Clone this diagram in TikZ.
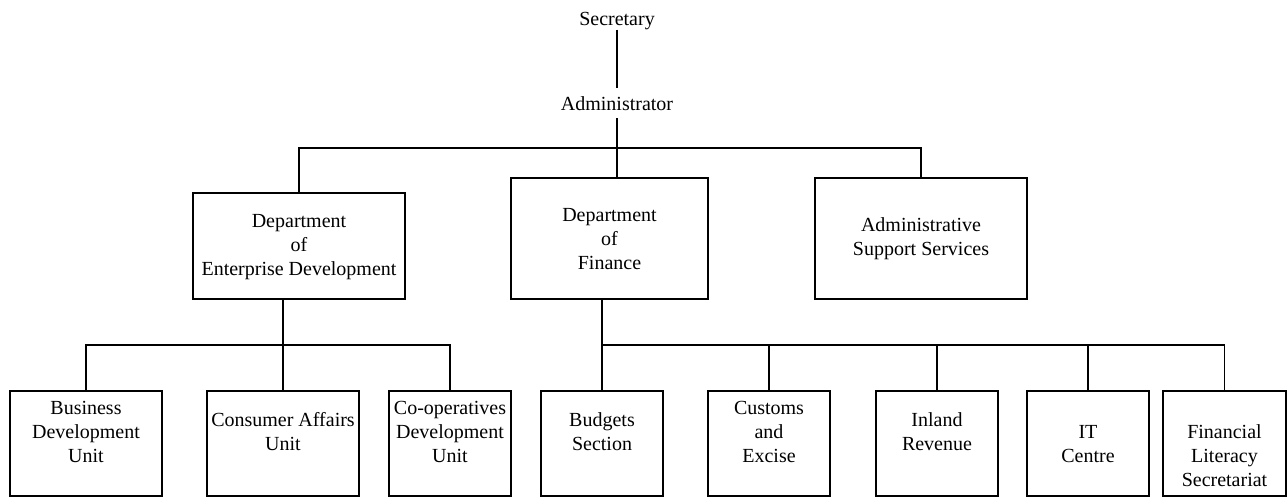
\documentclass[tikz,border=0pt]{standalone}
\usepackage{fontspec}
\setmainfont{Liberation Serif}
\begin{document}
\begin{tikzpicture}[x=1pt,y=-1pt,
  unitbox/.style={draw, line width=1.1pt, inner sep=0pt, minimum width=#1},
  unitbox/.default=122pt,
  lbl/.style={font=\fontsize{20}{24}\selectfont, align=center, inner sep=0pt},
  link/.style={line width=1.1pt}]
  % canvas
  \fill[white] (0,0) rectangle (1287,498);
  \useasboundingbox (0,0) rectangle (1287,498);

  % top of the chart
  \node[lbl, anchor=base] (sec) at (617,25) {Secretary};
  \node[lbl, anchor=base, inner ysep=8pt] (adm) at (617,110) {Administrator};

  % departments
  \node[unitbox=212pt, minimum height=106pt] (ent) at (299,246) {};
  \node[lbl] (entT) at (299,247) {Department\\of\\Enterprise Development};
  \node[unitbox=197pt, minimum height=121pt] (fin) at (609.5,238.5) {};
  \node[lbl] (finT) at (609.5,239) {Department\\of\\Finance};
  \node[unitbox=212pt, minimum height=121pt] (ass) at (921,238.5) {};
  \node[lbl] (assT) at (921,239) {Administrative\\Support Services};

  % units
  \node[unitbox=152pt, minimum height=105pt] (bdu) at (86,443.5) {};
  \node[lbl] (bduT) at (86,432) {Business\\Development\\Unit};
  \node[unitbox=152pt, minimum height=105pt] (cau) at (283,443.5) {};
  \node[lbl] (cauT) at (283,432) {Consumer Affairs\\Unit};
  \node[unitbox, minimum height=105pt] (cdu) at (450,443.5) {};
  \node[lbl] (cduT) at (450,432) {Co-operatives\\Development\\Unit};
  \node[unitbox, minimum height=105pt] (bs) at (602,443.5) {};
  \node[lbl] (bsT) at (602,432) {Budgets\\Section};
  \node[unitbox, minimum height=105pt] (ce) at (769,443.5) {};
  \node[lbl] (ceT) at (769,432) {Customs\\and\\Excise};
  \node[unitbox, minimum height=105pt] (ir) at (937,443.5) {};
  \node[lbl] (irT) at (937,432) {Inland\\Revenue};
  \node[unitbox, minimum height=105pt] (it) at (1088,443.5) {};
  \node[lbl] (itT) at (1088,444) {IT\\Centre};
  \node[unitbox=123pt, minimum height=105pt] (fl) at (1224.5,443.5) {};
  \node[lbl] (flT) at (1224.5,456) {Financial\\Literacy\\Secretariat};

  % bus lines
  \coordinate (topbus) at (617,148);
  \coordinate (lbus) at (283,345);
  \coordinate (rbus) at (602,345);

  % connectors
  \draw[link] (sec.south) -- (adm.north);
  \draw[link] (adm.south) -- (adm.south |- fin.north);
  \draw[link] (ent.north) -- (ent.north |- topbus) -- (ass.north |- topbus) -- (ass.north);

  \draw[link] (ent.south -| cau.north) -- (cau.north);
  \draw[link] (bdu.north) -- (bdu.north |- lbus) -- (cdu.north |- lbus) -- (cdu.north);

  \draw[link] (fin.south -| bs.north) -- (bs.north);
  \draw[link] (rbus) -- (fl.north |- rbus) -- (fl.north);
  \draw[link] (ce.north) -- (ce.north |- rbus);
  \draw[link] (ir.north) -- (ir.north |- rbus);
  \draw[link] (it.north) -- (it.north |- rbus);
\end{tikzpicture}
\end{document}
